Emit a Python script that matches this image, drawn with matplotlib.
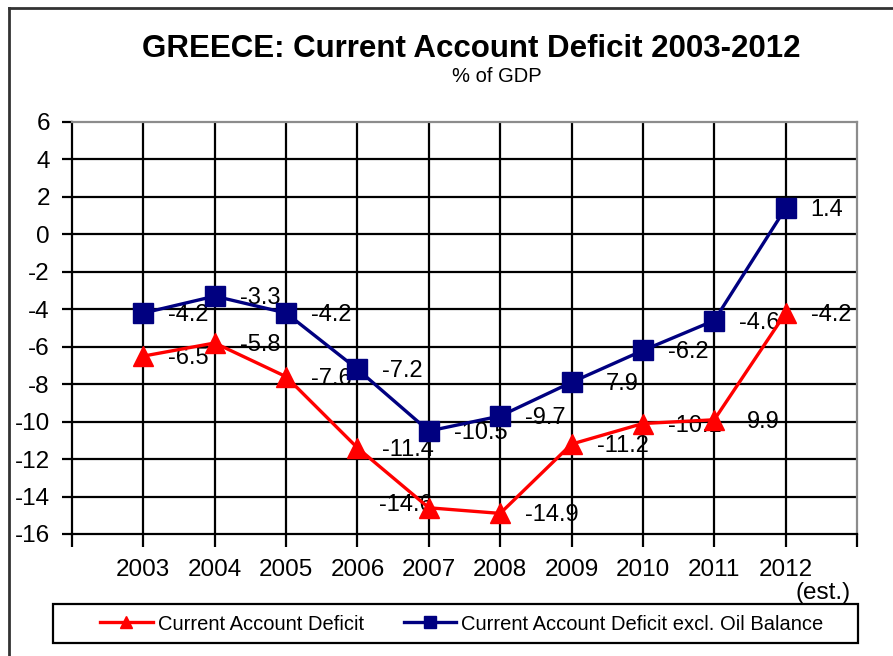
import matplotlib
matplotlib.use("Agg")
import matplotlib.pyplot as plt
from matplotlib.lines import Line2D
from matplotlib.patches import Rectangle

plt.rcParams['font.family'] = ['Liberation Sans', 'DejaVu Sans']

years = ["2003", "2004", "2005", "2006", "2007", "2008", "2009", "2010", "2011", "2012"]
cad = [-6.5, -5.8, -7.6, -11.4, -14.6, -14.9, -11.2, -10.1, -9.9, -4.2]
cad_excl_oil = [-4.2, -3.3, -4.2, -7.2, -10.5, -9.7, -7.9, -6.2, -4.6, 1.4]
cad_labels = ["-6.5", "-5.8", "-7.6", "-11.4", "-14.6", "-14.9", "-11.2", "-10.1", "9.9", "-4.2"]
excl_labels = ["-4.2", "-3.3", "-4.2", "-7.2", "-10.5", "-9.7", "7.9", "-6.2", "-4.6", "1.4"]
yticks = [6, 4, 2, 0, -2, -4, -6, -8, -10, -12, -14, -16]

W, H = 893, 656
fig = plt.figure(figsize=(W / 100, H / 100), dpi=100)
fig.patch.set_facecolor('white')

def fx(px):
    return px / W

def fy(py):
    return 1 - py / H

ax = fig.add_axes([fx(72), fy(534), fx(857) - fx(72), fy(122) - fy(534)])
x = list(range(len(years)))

red = '#FF0000'
navy = '#000080'

ax.plot(x, cad, color=red, lw=2.4, marker='^', ms=15, mec=red, mfc=red, zorder=5,
        label='Current Account Deficit')
ax.plot(x, cad_excl_oil, color=navy, lw=2.4, marker='s', ms=15, mec=navy, mfc=navy, zorder=5,
        label='Current Account Deficit excl. Oil Balance')

LFS = 17
for i, (v, t) in enumerate(zip(cad, cad_labels)):
    if i == 4:
        ax.annotate(t, (i, v), xytext=(4, 3), textcoords='offset pixels', ha='right', va='center',
                    fontsize=LFS, zorder=3)
    else:
        off = 33 if t == "9.9" else 25
        ax.annotate(t, (i, v), xytext=(off, -2), textcoords='offset pixels', ha='left', va='center',
                    fontsize=LFS, zorder=3)
for i, (v, t) in enumerate(zip(cad_excl_oil, excl_labels)):
    off = 34 if t == "7.9" else 25
    ax.annotate(t, (i, v), xytext=(off, -2), textcoords='offset pixels', ha='left', va='center',
                fontsize=LFS, zorder=3)

ax.set_xlim(-1, 10)
ax.set_ylim(-16, 6)
ax.set_yticks(yticks)
ax.set_yticklabels([str(t) for t in yticks])
ax.set_xticks(range(-1, 11))
ax.set_xticklabels([""] + years + [""])

# gridlines
for yy in yticks[1:-1]:
    ax.axhline(yy, color='black', lw=1.6, zorder=1)
for xx in x:
    ax.axvline(xx, color='black', lw=1.6, zorder=1)

ax.spines['left'].set_color('black')
ax.spines['left'].set_linewidth(1.6)
ax.spines['bottom'].set_color('black')
ax.spines['bottom'].set_linewidth(1.6)
ax.spines['top'].set_color('#8c8c8c')
ax.spines['top'].set_linewidth(1.6)
ax.spines['right'].set_color('#8c8c8c')
ax.spines['right'].set_linewidth(1.6)

ax.tick_params(axis='y', direction='out', length=7, width=1.6, pad=9, labelsize=17.5)
ax.tick_params(axis='x', direction='out', length=9, width=1.6, pad=9, labelsize=17.5)

fig.text(fx(851), fy(593), "(est.)", ha='right', va='center', fontsize=17.5)

# title
fig.text(fx(471), fy(49), "GREECE: Current Account Deficit 2003-2012", ha='center', va='center',
         fontsize=22.5, fontweight='bold')
fig.text(fx(497), fy(76), "% of GDP", ha='center', va='center', fontsize=14.5)

# figure border (left and top)
fig.add_artist(Line2D([fx(9), fx(9)], [fy(8), 0], color='#333333', lw=2, transform=fig.transFigure))
fig.add_artist(Line2D([fx(9), 1], [fy(8), fy(8)], color='#333333', lw=2, transform=fig.transFigure))

# legend box
fig.add_artist(Rectangle((fx(53), fy(643)), fx(858) - fx(53), fy(604) - fy(643),
                         transform=fig.transFigure, fill=False, ec='black', lw=1.6))
handles = [Line2D([], [], color=red, lw=2.4, marker='^', ms=9, mfc=red, mec=red),
           Line2D([], [], color=navy, lw=2.4, marker='s', ms=9, mfc=navy, mec=navy)]
fig.legend(handles, ['Current Account Deficit', 'Current Account Deficit excl. Oil Balance'],
           loc='center', bbox_to_anchor=(fx(462), fy(624)), ncol=2, frameon=False,
           fontsize=14.5, handlelength=2.6, handletextpad=0.25, columnspacing=2.0)

fig.savefig('out.png', dpi=100, facecolor='white')
